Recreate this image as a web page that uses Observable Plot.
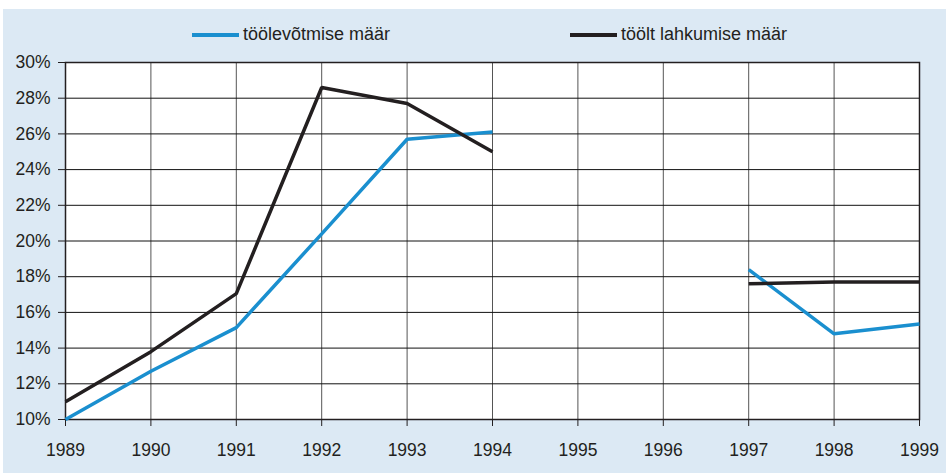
<!DOCTYPE html>
<html>
<head>
<meta charset="utf-8">
<script src="https://cdn.jsdelivr.net/npm/d3@7"></script>
<script src="https://cdn.jsdelivr.net/npm/@observablehq/plot@0.6"></script>
<style>
  html, body { margin: 0; padding: 0; background: #ffffff; }
  #panel { position: absolute; left: 3px; top: 9px; width: 943px; height: 464px; background: #dce9f4; font-family: "Liberation Sans", Arial, sans-serif; }
  #legend { position: relative; height: 44px; }
  .item { position: absolute; top: 15px; display: flex; align-items: center; font-size: 18px; color: #231f20; }
  .sw { width: 47px; height: 4px; margin-right: 4px; }
  #chart { position: absolute; left: 0; top: 44px; }
</style>
</head>
<body>
<div id="panel">
  <div id="legend"></div>
  <div id="chart"></div>
</div>
<script>
const years = [1989, 1990, 1991, 1992, 1993, 1994, 1995, 1996, 1997, 1998, 1999];
const hireRate = [10.0, 12.7, 15.15, 20.4, 25.7, 26.1, null, null, 18.4, 14.8, 15.35];
const leaveRate = [11.0, 13.8, 17.05, 28.6, 27.7, 25.0, null, null, 17.6, 17.7, 17.7];
const seriesNames = ["töölevõtmise määr", "töölt lahkumise määr"];
const seriesColors = ["#1a8fcf", "#231f20"];
const yTicks = [10, 12, 14, 16, 18, 20, 22, 24, 26, 28, 30];

const rows = [];
years.forEach((yr, i) => {
  rows.push({year: yr, value: hireRate[i], series: seriesNames[0]});
  rows.push({year: yr, value: leaveRate[i], series: seriesNames[1]});
});

// legend
const legend = document.getElementById("legend");
const legendX = [189, 567];
seriesNames.forEach((name, i) => {
  const it = document.createElement("div");
  it.className = "item";
  it.style.left = legendX[i] + "px";
  const sw = document.createElement("div");
  sw.className = "sw";
  sw.style.background = seriesColors[i];
  it.appendChild(sw);
  const t = document.createElement("span");
  t.textContent = name;
  it.appendChild(t);
  legend.appendChild(it);
});

const chart = Plot.plot({
  width: 943,
  height: 420,
  marginTop: 9,
  marginBottom: 54,
  marginLeft: 62,
  marginRight: 27,
  style: {fontFamily: "'Liberation Sans', Arial, sans-serif", fontSize: "17.5px", color: "#231f20", background: "transparent"},
  x: {domain: [1989, 1999], label: null},
  y: {domain: [10, 30], label: null},
  color: {domain: seriesNames, range: seriesColors},
  marks: [
    Plot.frame({fill: "white", stroke: null}),
    Plot.gridX(years, {stroke: "#555", strokeOpacity: 1, strokeWidth: 1}),
    Plot.gridY(yTicks, {stroke: "#111", strokeOpacity: 1, strokeWidth: 1}),
    Plot.frame({stroke: "#231f20", strokeWidth: 1.5}),
    Plot.axisX({ticks: years, tickFormat: d => String(d), tickSize: 7, tickPadding: 17, stroke: "#231f20", fontSize: "17.5px"}),
    Plot.axisY({ticks: yTicks, tickFormat: d => d + "%", tickSize: 7, tickPadding: 8, stroke: "#231f20", fontSize: "17.5px"}),
    Plot.line(rows, {x: "year", y: "value", z: "series", stroke: "series", strokeWidth: 3.5, strokeLinejoin: "miter", strokeLinecap: "butt"})
  ]
});
document.getElementById("chart").appendChild(chart);
</script>
</body>
</html>
